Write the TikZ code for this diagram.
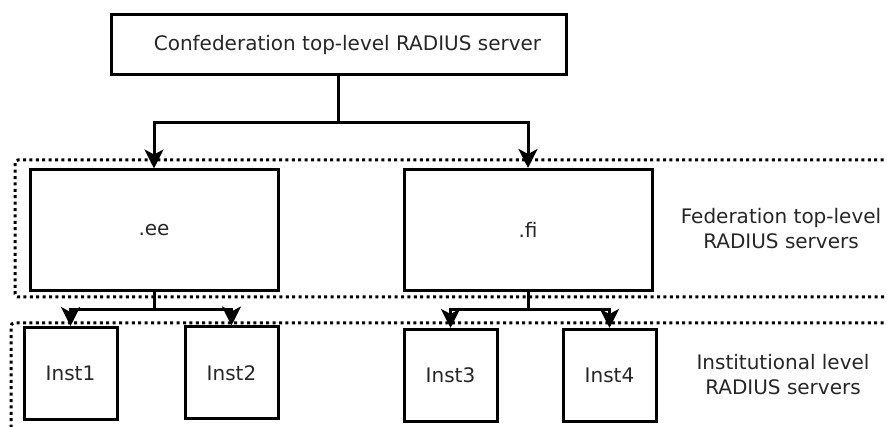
\documentclass[tikz,border=0pt]{standalone}
\usepackage{fontspec}
\setmainfont{DejaVu Sans}
\usepackage{tikz}
\usetikzlibrary{arrows.meta, positioning, calc}

\begin{document}
\begin{tikzpicture}[
    x=1pt, y=-1pt,
    server/.style={draw, line width=3pt, minimum width=#1, inner sep=0pt, text=black!85, font=\fontsize{20}{26}\selectfont},
    inst/.style={server=93pt, minimum height=92pt},
    fed/.style={server=248pt, minimum height=121pt},
    link/.style={-{Stealth[length=19pt, width=19pt, inset=5pt]}, line width=3pt},
    level/.style={line width=3pt, dash pattern=on 3pt off 3.4pt, rounded corners=3pt},
    levellabel/.style={font=\fontsize{20}{25}\selectfont, text=black!85, align=center},
]
\useasboundingbox (0,0) rectangle (887,427);

% Level frames
\draw[level] (890,160) -- (15,160) -- (15,297) -- (890,297);
\draw[level] (890,323) -- (11,323) -- (11,430);

\node[server=455pt, minimum height=60pt] (conf) at (338.5,45) {\hspace{18pt}Confederation top-level RADIUS server};
\node[fed] (ee) at (154,230.5) {.ee};
\node[fed] (fi) at (528,230) {.fi};
\node[inst] (inst1) at (70.5,373.5) {Inst1};
\node[inst] (inst2) at (231.5,373) {Inst2};
\node[inst] (inst3) at (450.5,375.5) {Inst3};
\node[inst] (inst4) at (609.5,375.5) {Inst4};

\node[levellabel] (fedlabel) at (781,229) {Federation top-level\\RADIUS servers};
\node[levellabel] (instlabel) at (783,375) {Institutional level\\RADIUS servers};

% Arrows
\coordinate (conffork) at (conf.south |- 0,123);
\coordinate (eefork) at (ee.south |- 0,310);
\coordinate (fifork) at (fi.south |- 0,310);
\draw[link] (conf.south) -- (conffork) -| (ee.north);
\draw[link] (conffork) -| (fi.north);
\draw[link] (ee.south) -- (eefork) -| (inst1.north);
\draw[link] (eefork) -| (inst2.north);
\draw[link] (fi.south) -- (fifork) -| (inst3.north);
\draw[link] (fifork) -| (inst4.north);

\end{tikzpicture}
\end{document}
